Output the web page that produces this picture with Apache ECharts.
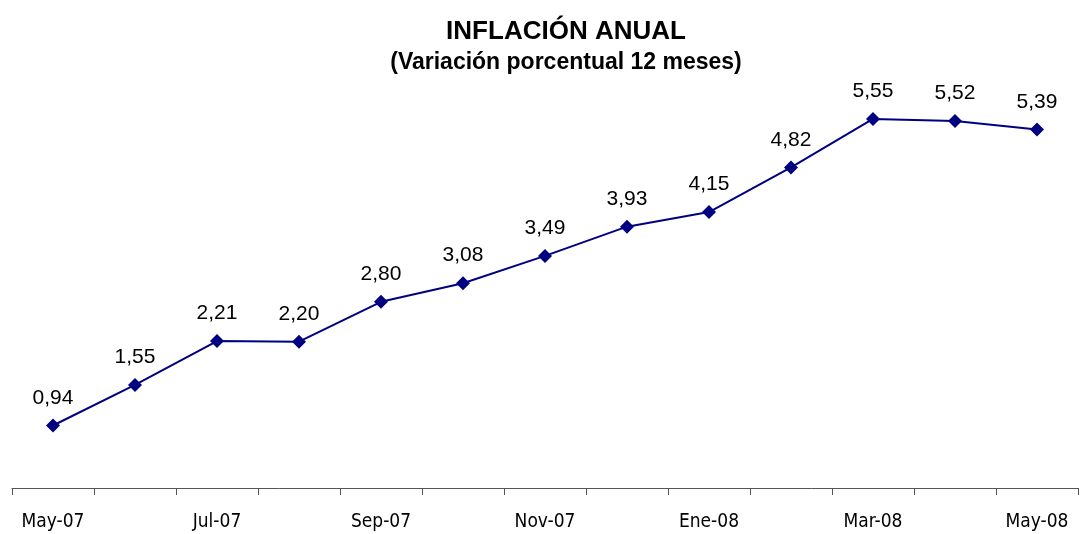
<!DOCTYPE html>
<html>
<head>
<meta charset="utf-8">
<script src="https://cdn.jsdelivr.net/npm/echarts@6/dist/echarts.min.js"></script>
<style>
html,body{margin:0;padding:0;background:#fff;}
#chart{width:1080px;height:534px;}
</style>
</head>
<body>
<div id="chart"></div>
<script>
const categories = ['May-07','Jun-07','Jul-07','Ago-07','Sep-07','Oct-07','Nov-07','Dic-07','Ene-08','Feb-08','Mar-08','Abr-08','May-08'];
const inflation = [0.94, 1.55, 2.21, 2.20, 2.80, 3.08, 3.49, 3.93, 4.15, 4.82, 5.55, 5.52, 5.39];
const titleText = 'INFLACIÓN ANUAL';
const subtitleText = '(Variación porcentual 12 meses)';

const chart = echarts.init(document.getElementById('chart'), null, {renderer: 'canvas'});
chart.setOption({
  backgroundColor: '#ffffff',
  animation: false,
  title: [
    {
      text: titleText,
      left: 566, top: 19, textAlign: 'center',
      padding: 0,
      textStyle: {fontFamily: "'Liberation Sans', Arial, sans-serif", fontWeight: 'bold', fontSize: 26, color: '#000'}
    },
    {
      text: subtitleText,
      left: 566, top: 51, textAlign: 'center',
      padding: 0,
      textStyle: {fontFamily: "'Liberation Sans', Arial, sans-serif", fontWeight: 'bold', fontSize: 23, color: '#000'}
    }
  ],
  grid: {left: 12, right: 2, top: 89, bottom: 46, containLabel: false},
  xAxis: {
    type: 'category',
    data: categories,
    boundaryGap: true,
    axisLine: {show: true, lineStyle: {color: '#555', width: 1}},
    axisTick: {show: true, interval: 0, length: 7, lineStyle: {color: '#555', width: 1}},
    axisLabel: {
      interval: 1,
      margin: 25,
      fontFamily: "'Liberation Sans Narrow', 'Arial Narrow', 'DejaVu Sans Condensed', sans-serif",
      fontSize: 19,
      color: '#000'
    },
    splitLine: {show: false}
  },
  yAxis: {
    type: 'value',
    min: 0, max: 6,
    show: false,
    splitLine: {show: false}
  },
  series: [{
    type: 'line',
    data: inflation,
    symbol: 'diamond',
    symbolSize: 14,
    lineStyle: {color: '#000080', width: 2},
    itemStyle: {color: '#000080'},
    label: {
      show: true,
      position: 'top',
      distance: 10,
      fontFamily: "'Liberation Sans', Arial, sans-serif",
      fontSize: 21,
      color: '#000',
      formatter: p => p.value.toFixed(2).replace('.', ',')
    }
  }]
});
</script>
</body>
</html>
